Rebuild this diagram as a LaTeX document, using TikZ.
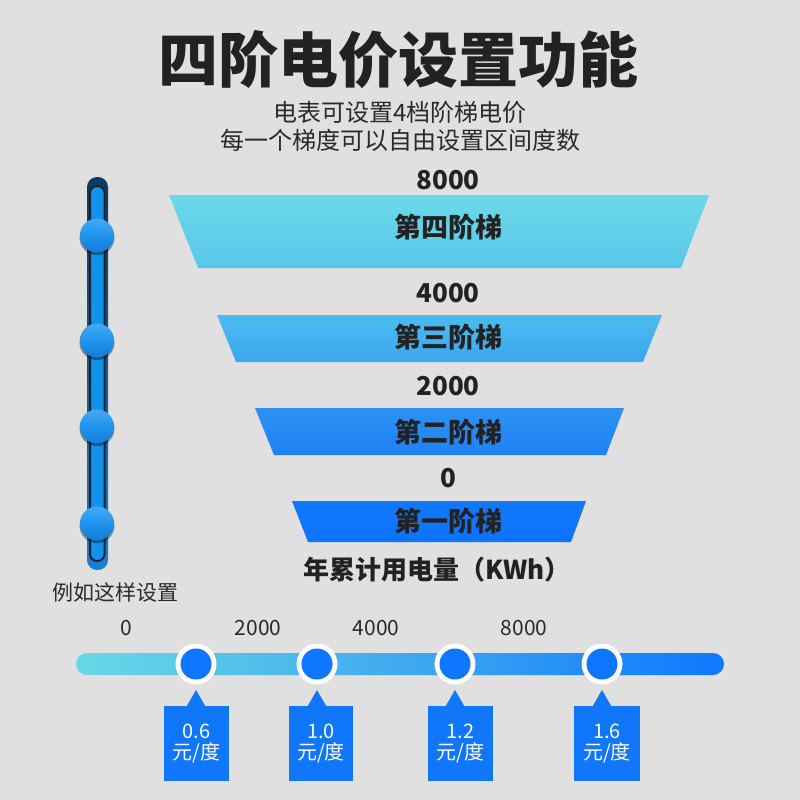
\documentclass[tikz,border=0pt]{standalone}
\usepackage{fontspec}
\setmainfont{Noto Sans CJK SC}
\definecolor{bg}{HTML}{E0E0E0}
\definecolor{ink}{HTML}{222222}
\definecolor{ink2}{HTML}{2A2A2A}
\definecolor{tfourA}{HTML}{6ADAE8}
\definecolor{tfourB}{HTML}{5AC6EA}
\definecolor{tthreeA}{HTML}{4BBCEE}
\definecolor{tthreeB}{HTML}{3AA6F0}
\definecolor{ttwoA}{HTML}{2C92F2}
\definecolor{ttwoB}{HTML}{1E82F6}
\definecolor{toneA}{HTML}{1279FB}
\definecolor{toneB}{HTML}{0D72FF}
\definecolor{barL}{HTML}{67D9E6}
\definecolor{barM}{HTML}{3FAAF0}
\definecolor{barR}{HTML}{0E78FF}
\definecolor{dotblue}{HTML}{0F77FF}
\definecolor{callblue}{HTML}{1077FA}
\definecolor{trackdark}{HTML}{083C60}
\definecolor{trackblue}{HTML}{1A7FD4}
\definecolor{trackfill}{HTML}{0F93EC}
\definecolor{knobA}{HTML}{45AAF3}
\definecolor{knobM}{HTML}{1F93EE}
\definecolor{knobB}{HTML}{137CD6}
\tikzset{
  titlestyle/.style={font=\fontsize{60}{60}\selectfont\bfseries, text=ink, inner sep=0pt},
  substyle/.style={font=\fontsize{24}{24}\selectfont, text=ink2, inner sep=0pt},
  tierlabel/.style={font=\fontsize{27}{27}\selectfont\bfseries, text=ink, inner sep=0pt},
  tiernum/.style={font=\fontsize{26}{26}\selectfont\bfseries, text=ink, inner sep=0pt},
  axisnum/.style={font=\fontsize{21}{21}\selectfont, text=ink2, inner sep=0pt},
  calltext/.style={font=\fontsize{20}{20}\selectfont, text=white, inner sep=0pt},
  knob/.style={top color=knobA, bottom color=knobB, middle color=knobM},
}
\begin{document}
\begin{tikzpicture}[x=1pt,y=-1pt]
\fill[bg] (0,0) rectangle (800,800);
\useasboundingbox (0,0) rectangle (800,800);

% title
\node[titlestyle] (title) at (398,60) {四阶电价设置功能};
\node[substyle] (sub1) at (400,112) {电表可设置4档阶梯电价};
\node[substyle] (sub2) at (400,140) {每一个梯度可以自由设置区间度数};

% funnel
\shade[top color=tfourA, bottom color=tfourB] (169,195) -- (709,195) -- (681,268) -- (198,268) -- cycle;
\shade[top color=tthreeA, bottom color=tthreeB] (217,315) -- (662,315) -- (643,362) -- (236,362) -- cycle;
\shade[top color=ttwoA, bottom color=ttwoB] (255,408) -- (624,408) -- (606,455) -- (274,455) -- cycle;
\shade[top color=toneA, bottom color=toneB] (292,501) -- (586,501) -- (571,542) -- (308,542) -- cycle;

\node[tiernum] (n8000) at (448,180) {8000};
\node[tierlabel] (t4) at (448,227) {第四阶梯};
\node[tiernum] (n4000) at (448,293) {4000};
\node[tierlabel] (t3) at (448,337) {第三阶梯};
\node[tiernum] (n2000) at (448,386) {2000};
\node[tierlabel] (t2) at (448,432) {第二阶梯};
\node[tiernum] (n0) at (448,478) {0};
\node[tierlabel] (t1) at (448,521) {第一阶梯};
\node[tierlabel, font=\fontsize{26}{26}\selectfont\bfseries] (unit) at (437,570) {年累计用电量（KWh）};

% slider
\shade[top color=trackdark, bottom color=trackblue, rounded corners=10] (87,177) rectangle (108,570);
\draw[line width=2pt, draw=ink, fill=trackfill, rounded corners=7] (90,186) rectangle (104.5,561);
\foreach \yy in {236,341,427,524}{
  \fill[black, opacity=0.4] (97,\yy+1.5) circle (17.5);
  \shade[knob] (97,\yy-0.5) circle (17);
}
\node[substyle, font=\fontsize{21}{21}\selectfont] (eg) at (115,592) {例如这样设置};

% axis
\node[axisnum] (a0) at (126,628) {0};
\node[axisnum] (a2000) at (258,628) {2000};
\node[axisnum] (a4000) at (376,628) {4000};
\node[axisnum] (a8000) at (524,628) {8000};
\shade[left color=barL, right color=barR, middle color=barM, rounded corners=11] (76,653) rectangle (724,675);

\foreach \cx/\bl/\br/\pr [count=\i] in {196/164/229/0.6, 317/289/353/1.0, 455/428/493/1.2, 602/574/640/1.6}{
  \fill[white] (\cx,664) circle (20.5);
  \fill[dotblue] (\cx,664) circle (15.5);
  \fill[callblue] (\cx-9.5,706.5) -- (\cx,690) -- (\cx+9.5,706.5) -- cycle;
  \fill[callblue] (\bl,706) rectangle (\br,781);
  \node[calltext] (price\i) at ({(\bl+\br)/2},731) {\pr};
  \node[calltext] (unit\i) at ({(\bl+\br)/2},753) {元/度};
}
\end{tikzpicture}
\end{document}
